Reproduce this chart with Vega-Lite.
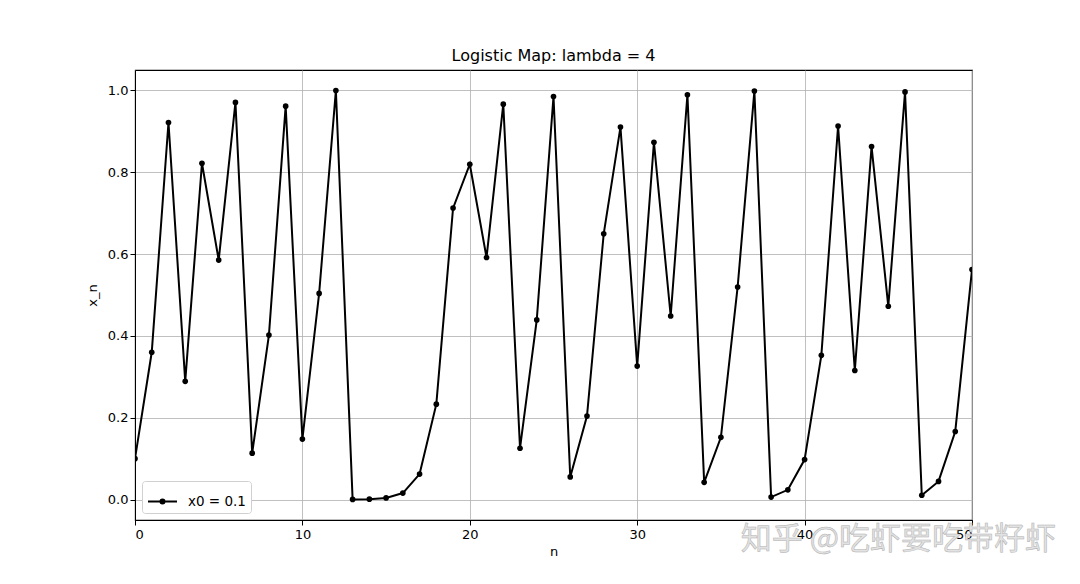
{
  "$schema": "https://vega.github.io/schema/vega-lite/v6.json",
  "width": 837,
  "height": 450,
  "autosize": {"type": "none"},
  "padding": {"left": 135, "top": 70, "right": 108, "bottom": 64},
  "background": "white",
  "title": {"text": "Logistic Map: lambda = 4", "font": "DejaVu Sans", "fontSize": 16, "fontWeight": "normal", "color": "black", "offset": 6},
  "config": {
    "view": {"stroke": "black", "strokeWidth": 1.1},
    "axis": {"labelFont": "DejaVu Sans", "titleFont": "DejaVu Sans", "labelFontSize": 13, "titleFontSize": 13, "titleFontWeight": "normal", "labelColor": "black", "titleColor": "black", "domainColor": "black", "tickColor": "black", "tickSize": 5, "gridColor": "#b0b0b0", "gridWidth": 0.8}
  },
  "datasets": {
    "pts": [
      {"n": 0, "x": 0.1}, {"n": 1, "x": 0.36}, {"n": 2, "x": 0.9216}, {"n": 3, "x": 0.289}, {"n": 4, "x": 0.822},
      {"n": 5, "x": 0.5854}, {"n": 6, "x": 0.9708}, {"n": 7, "x": 0.1133}, {"n": 8, "x": 0.402}, {"n": 9, "x": 0.9616},
      {"n": 10, "x": 0.1478}, {"n": 11, "x": 0.5039}, {"n": 12, "x": 0.9999}, {"n": 13, "x": 0.0003}, {"n": 14, "x": 0.001},
      {"n": 15, "x": 0.004}, {"n": 16, "x": 0.0158}, {"n": 17, "x": 0.0622}, {"n": 18, "x": 0.2332}, {"n": 19, "x": 0.7124},
      {"n": 20, "x": 0.8196}, {"n": 21, "x": 0.5916}, {"n": 22, "x": 0.9664}, {"n": 23, "x": 0.1255}, {"n": 24, "x": 0.4391},
      {"n": 25, "x": 0.9852}, {"n": 26, "x": 0.0553}, {"n": 27, "x": 0.204}, {"n": 28, "x": 0.6497}, {"n": 29, "x": 0.9104},
      {"n": 30, "x": 0.3263}, {"n": 31, "x": 0.8733}, {"n": 32, "x": 0.4487}, {"n": 33, "x": 0.9894}, {"n": 34, "x": 0.0421},
      {"n": 35, "x": 0.152}, {"n": 36, "x": 0.5196}, {"n": 37, "x": 0.9985}, {"n": 38, "x": 0.006}, {"n": 39, "x": 0.0238},
      {"n": 40, "x": 0.0977}, {"n": 41, "x": 0.3526}, {"n": 42, "x": 0.913}, {"n": 43, "x": 0.3155}, {"n": 44, "x": 0.8627},
      {"n": 45, "x": 0.4724}, {"n": 46, "x": 0.9964}, {"n": 47, "x": 0.0105}, {"n": 48, "x": 0.0443}, {"n": 49, "x": 0.1664},
      {"n": 50, "x": 0.5621}
    ],
    "mark": [{"n": 45.6, "x": -0.1, "t": "知乎 @吃虾要吃带籽虾"}]
  },
  "layer": [
    {
      "data": {"name": "pts"},
      "transform": [{"calculate": "'x0 = 0.1'", "as": "series"}],
      "mark": {"type": "line", "strokeWidth": 2, "point": {"filled": true, "size": 32}, "clip": true},
      "encoding": {
        "x": {"field": "n", "type": "quantitative", "scale": {"domain": [0, 50], "nice": false, "zero": false}, "axis": {"values": [0, 10, 20, 30, 40, 50], "title": "n", "titlePadding": 4, "labelPadding": 3}},
        "y": {"field": "x", "type": "quantitative", "scale": {"domain": [-0.05, 1.05], "nice": false, "zero": false}, "axis": {"values": [0, 0.2, 0.4, 0.6, 0.8, 1.0], "format": ".1f", "title": "x_n", "titlePadding": 8}},
        "color": {"field": "series", "type": "nominal", "scale": {"range": ["black"]}, "legend": {"title": null, "orient": "bottom-left", "offset": 7, "labelFont": "DejaVu Sans", "labelFontSize": 13.5, "labelColor": "black", "symbolType": "M-1,0H1M-0.14,0A0.14,0.14 0 1,0 0.14,0A0.14,0.14 0 1,0 -0.14,0Z", "symbolSize": 841, "symbolStrokeWidth": 2, "symbolFillColor": "black", "symbolStrokeColor": "black", "strokeColor": "#d0d0d0", "fillColor": "white", "padding": 5, "cornerRadius": 3, "labelOffset": 10}}
      }
    },
    {
      "data": {"name": "mark"},
      "mark": {"type": "text", "font": "Noto Sans CJK SC", "fontSize": 31, "color": "#e2e2e2", "stroke": "#b0b0b0", "strokeWidth": 0.5, "align": "center", "baseline": "middle"},
      "encoding": {
        "x": {"field": "n", "type": "quantitative"},
        "y": {"field": "x", "type": "quantitative"},
        "text": {"field": "t"}
      }
    }
  ]
}
